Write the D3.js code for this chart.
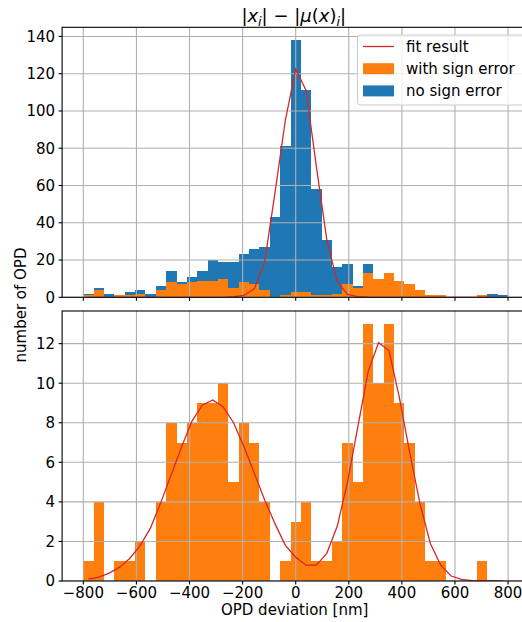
<!DOCTYPE html>
<html>
<head>
<meta charset="utf-8">
<script src="https://cdn.jsdelivr.net/npm/d3@7/dist/d3.min.js"></script>
<style>
  html, body { margin: 0; padding: 0; background: #fff; }
  svg { display: block; font-family: 'DejaVu Sans', sans-serif; }
</style>
</head>
<body>
<div id="graph"></div>
<script>
// histogram bins: 41 equal bins between -800 and 800 nm
const binRange = [-800, 800];
const binCount = 41;

// top panel (stacked): with sign error at the bottom, no sign error on top
const withSignError = [1, 4, 0, 1, 1, 2, 0, 4, 8, 7, 8, 9, 9, 10, 5, 8, 7, 4, 0, 1, 3, 3, 1, 1, 2, 7, 5, 13, 10, 13, 9, 7, 4, 1, 1, 0, 0, 0, 1, 0, 0];
const noSignError = [1, 1, 2, 0, 2, 2, 2, 2, 6, 1, 3, 5, 11, 9, 14, 15, 19, 23, 43, 80, 135, 108, 57, 30, 14, 11, 1, 5, 0, 0, 0, 0, 0, 0, 0, 0, 0, 0, 0, 2, 1];
const topFit = [0, 0, 0, 0, 0, 0, 0, 0, 0, 0, 0, 0, 0, 0, 0.3, 1.0, 4.5, 18.8, 56, 95, 122.5, 111, 70, 31, 8.4, 1.6, 0.4, 0.05, 0, 0, 0, 0, 0, 0, 0, 0, 0, 0, 0, 0, 0];

// bottom panel
const signErrorOpd = [1, 4, 0, 1, 1, 2, 0, 4, 8, 7, 8, 9, 9, 10, 5, 8, 7, 4, 0, 1, 3, 4, 1, 1, 2, 7, 5, 13, 10, 13, 9, 7, 4, 1, 1, 0, 0, 0, 1, 0, 0];
const bottomFit = [0.1, 0.2, 0.4, 0.7, 1.15, 1.8, 2.7, 4.0, 5.4, 6.8, 8.1, 8.9, 9.15, 8.8, 8.0, 6.8, 5.45, 4.1, 2.9, 1.8, 1.2, 0.8, 0.8, 1.4, 2.75, 5.0, 7.8, 10.6, 12.05, 11.65, 9.3, 6.5, 3.9, 1.9, 0.8, 0.25, 0.08, 0.02, 0, 0, 0];

const xTicks = [-800, -600, -400, -200, 0, 200, 400, 600, 800];
const topYTicks = [0, 20, 40, 60, 80, 100, 120, 140];
const bottomYTicks = [0, 2, 4, 6, 8, 10, 12];

const colors = { orange: '#ff7f0e', blue: '#1f77b4', red: '#d62728', grid: '#b0b0b0' };
const width = 522;
const height = 622;
const plot = { left: 62.1, right: 529.3 };
const panels = { top: [27.3, 297.3], bottom: [311, 581] };
const fontSize = 15;

const binW = (binRange[1] - binRange[0]) / binCount;
const bins = d3.range(binCount).map(i => ({ i, x0: binRange[0] + i * binW, x1: binRange[0] + (i + 1) * binW }));

const x = d3.scaleLinear().domain([-880, 880]).range([plot.left, plot.right]);

const svg = d3.select('#graph')
  .append('svg')
  .attr('width', width)
  .attr('height', height);

function drawPanel(name, y, series, fit, yTicks, showXLabels) {
  const [top, bottom] = panels[name];
  const g = svg.append('g').attr('class', 'panel-' + name);

  g.append('clipPath').attr('id', 'clip-' + name)
    .append('rect')
    .attr('x', plot.left).attr('y', top)
    .attr('width', plot.right - plot.left).attr('height', bottom - top);

  const area = g.append('g').attr('clip-path', `url(#clip-${name})`);

  // stacked bars
  series.forEach(s => {
    area.append('g')
      .selectAll('rect')
      .data(bins.filter(b => s.values[b.i] > 0))
      .enter()
      .append('rect')
      .attr('x', b => x(b.x0))
      .attr('width', b => x(b.x1) - x(b.x0))
      .attr('y', b => y(s.base[b.i] + s.values[b.i]))
      .attr('height', b => y(s.base[b.i]) - y(s.base[b.i] + s.values[b.i]))
      .attr('fill', s.color)
      .attr('shape-rendering', 'crispEdges');
  });

  // grid is drawn above the bars
  area.append('g').selectAll('line.vgrid')
    .data(xTicks).enter().append('line')
    .attr('x1', d => x(d)).attr('x2', d => x(d))
    .attr('y1', top).attr('y2', bottom)
    .attr('stroke', colors.grid).attr('stroke-width', 1.1);
  area.append('g').selectAll('line.hgrid')
    .data(yTicks).enter().append('line')
    .attr('x1', plot.left).attr('x2', plot.right)
    .attr('y1', d => y(d)).attr('y2', d => y(d))
    .attr('stroke', colors.grid).attr('stroke-width', 1.1);

  area.append('path')
    .datum(bins)
    .attr('fill', 'none')
    .attr('stroke', colors.red)
    .attr('stroke-width', 1.3)
    .attr('d', d3.line()
      .x(b => x((b.x0 + b.x1) / 2))
      .y(b => y(fit[b.i])));

  // spines
  const spines = g.append('g').attr('stroke', '#000').attr('stroke-width', 1.1).attr('fill', 'none');
  spines.append('rect')
    .attr('x', plot.left).attr('y', top)
    .attr('width', plot.right - plot.left).attr('height', bottom - top)
    .attr('stroke-linejoin', 'miter');

  // ticks
  g.append('g').selectAll('line')
    .data(xTicks).enter().append('line')
    .attr('x1', d => x(d)).attr('x2', d => x(d))
    .attr('y1', bottom).attr('y2', bottom + 3.5)
    .attr('stroke', '#000').attr('stroke-width', 1.1);
  g.append('g').selectAll('line')
    .data(yTicks).enter().append('line')
    .attr('x1', plot.left - 3.5).attr('x2', plot.left)
    .attr('y1', d => y(d)).attr('y2', d => y(d))
    .attr('stroke', '#000').attr('stroke-width', 1.1);

  g.append('g').selectAll('text')
    .data(yTicks).enter().append('text')
    .attr('x', plot.left - 7)
    .attr('y', d => y(d))
    .attr('dy', '0.36em')
    .attr('text-anchor', 'end')
    .attr('font-size', fontSize)
    .attr('fill', '#000')
    .text(d => d);

  if (showXLabels) {
    g.append('g').selectAll('text')
      .data(xTicks).enter().append('text')
      .attr('x', d => x(d))
      .attr('y', bottom + 17)
      .attr('text-anchor', 'middle')
      .attr('font-size', fontSize)
      .attr('fill', '#000')
      .text(d => d < 0 ? '\u2212' + Math.abs(d) : d);
  }
}

// top panel: stacked histogram
const topTotals = withSignError.map((v, i) => v + noSignError[i]);
const yTop = d3.scaleLinear()
  .domain([0, d3.max(topTotals) * 1.05])
  .range([panels.top[1], panels.top[0]]);
const zeros = withSignError.map(() => 0);
drawPanel('top', yTop, [
  { values: withSignError, base: zeros, color: colors.orange },
  { values: noSignError, base: withSignError, color: colors.blue },
], topFit, topYTicks, false);

// bottom panel
const yBottom = d3.scaleLinear()
  .domain([0, d3.max(signErrorOpd) * 1.05])
  .range([panels.bottom[1], panels.bottom[0]]);
drawPanel('bottom', yBottom, [
  { values: signErrorOpd, base: zeros, color: colors.orange },
], bottomFit, bottomYTicks, true);

// title |x_i| - |mu(x)_i|
const title = svg.append('text')
  .attr('x', (plot.left + plot.right) / 2 - 2)
  .attr('y', 22)
  .attr('text-anchor', 'middle')
  .attr('font-size', 18)
  .attr('fill', '#000');
title.append('tspan').text('|');
title.append('tspan').attr('font-style', 'italic').text('x');
title.append('tspan').attr('font-style', 'italic').attr('font-size', 12.6).attr('dy', 3.5).text('i');
title.append('tspan').attr('dy', -3.5).text('| \u2212 |');
title.append('tspan').attr('font-style', 'italic').text('\u03bc');
title.append('tspan').text('(');
title.append('tspan').attr('font-style', 'italic').text('x');
title.append('tspan').text(')');
title.append('tspan').attr('font-style', 'italic').attr('font-size', 12.6).attr('dy', 3.5).text('i');
title.append('tspan').attr('dy', -3.5).text('|');

// axis labels
svg.append('text')
  .attr('x', (plot.left + plot.right) / 2 - 1)
  .attr('y', 615)
  .attr('text-anchor', 'middle')
  .attr('font-size', fontSize)
  .attr('fill', '#000')
  .text('OPD deviation [nm]');

svg.append('text')
  .attr('transform', 'translate(26,305) rotate(-90)')
  .attr('text-anchor', 'middle')
  .attr('font-size', fontSize)
  .attr('fill', '#000')
  .text('number of OPD');

// legend
const legend = svg.append('g').attr('class', 'legend');
legend.append('rect')
  .attr('x', 357.5).attr('y', 35)
  .attr('width', 180).attr('height', 70)
  .attr('rx', 3)
  .attr('fill', '#fff').attr('fill-opacity', 0.8)
  .attr('stroke', '#cccccc').attr('stroke-width', 1);

const legendItems = [
  { label: 'fit result', type: 'line', color: colors.red },
  { label: 'with sign error', type: 'patch', color: colors.orange },
  { label: 'no sign error', type: 'patch', color: colors.blue },
];
legendItems.forEach((item, i) => {
  const cy = 46.5 + i * 22.2;
  if (item.type === 'line') {
    legend.append('line')
      .attr('x1', 363).attr('x2', 394)
      .attr('y1', cy).attr('y2', cy)
      .attr('stroke', item.color).attr('stroke-width', 1.3);
  } else {
    legend.append('rect')
      .attr('x', 363).attr('y', cy - 5.5)
      .attr('width', 31).attr('height', 11)
      .attr('fill', item.color);
  }
  legend.append('text')
    .attr('x', 406)
    .attr('y', cy + 5.3)
    .attr('font-size', fontSize)
    .attr('fill', '#000')
    .text(item.label);
});
</script>
</body>
</html>
